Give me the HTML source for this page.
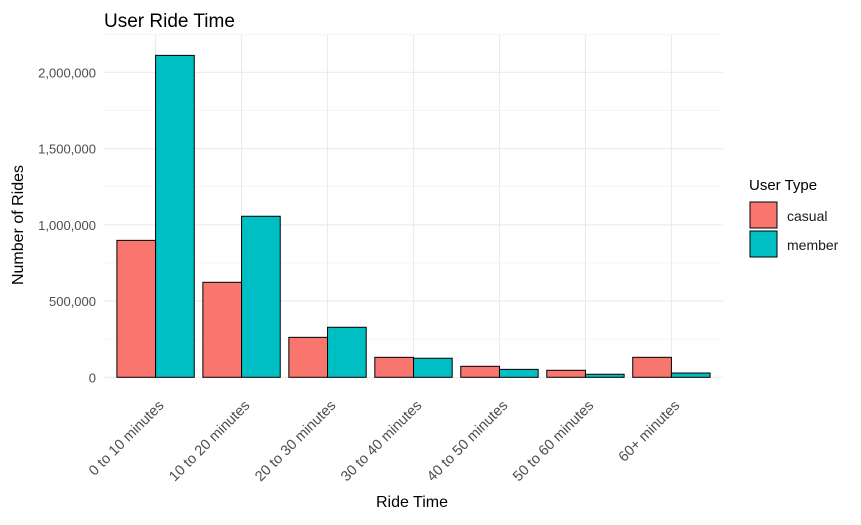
<!DOCTYPE html>
<html><head><meta charset="utf-8"><style>
body{margin:0;background:#fff;font-family:"Liberation Sans",sans-serif;}
svg text{font-family:"Liberation Sans",sans-serif;}
</style></head><body>
<svg id="chart" width="861" height="520" xmlns="http://www.w3.org/2000/svg">
<text x="104" y="27" font-size="19" fill="#000">User Ride Time</text>
<g id="grid"></g><g id="bars"></g><g id="axes"></g>
<text x="412" y="507" font-size="16" text-anchor="middle" fill="#000">Ride Time</text>
<text transform="translate(23,225) rotate(-90)" font-size="16" text-anchor="middle" fill="#000">Number of Rides</text>
<g>
<text x="749" y="190" font-size="15" fill="#000">User Type</text>
<rect x="750" y="202" width="27" height="26" fill="#F8766D" stroke="#000" stroke-width="1"/>
<text x="787" y="221" font-size="14" fill="#1a1a1a">casual</text>
<rect x="750" y="231" width="27" height="26" fill="#00BFC4" stroke="#000" stroke-width="1"/>
<text x="787" y="250" font-size="14" fill="#1a1a1a">member</text>
</g>
</svg>
<script>
const categories=["0 to 10 minutes","10 to 20 minutes","20 to 30 minutes","30 to 40 minutes","40 to 50 minutes","50 to 60 minutes","60+ minutes"];
const casual=[898000,623000,262000,131000,72000,46000,131000];
const member=[2111000,1056000,328000,125000,52000,20000,28000];
const yTicks=[0,500000,1000000,1500000,2000000];
const yTickLabels=["0","500,000","1,000,000","1,500,000","2,000,000"];
const NS="http://www.w3.org/2000/svg";
const pLeft=104,pRight=723,pTop=35,pBottom=377.3;
const step=(pRight-pLeft)/(categories.length+0.2);
const xC=i=>pLeft+step*(0.6+i);
const yS=v=>pBottom-v*(76.25/500000);
function mk(p,t,a){const e=document.createElementNS(NS,t);for(const k in a)e.setAttribute(k,a[k]);p.appendChild(e);return e;}
const gridG=document.getElementById('grid'),barsG=document.getElementById('bars'),axesG=document.getElementById('axes');
for(let v=250000;v<2300000;v+=500000){const l=mk(gridG,'line',{x1:pLeft,x2:pRight,y1:yS(v),y2:yS(v),stroke:'#f0f0f0','stroke-width':0.6});

}
yTicks.forEach((v,i)=>{const l=mk(gridG,'line',{x1:pLeft,x2:pRight,y1:yS(v),y2:yS(v),stroke:'#ebebeb','stroke-width':1.1});


const t=mk(axesG,'text',{x:pLeft-8,y:yS(v)+5,'text-anchor':'end','font-size':13,fill:'#4d4d4d'});t.textContent=yTickLabels[i];

});
const bw=step*0.45;
categories.forEach((c,i)=>{const cx=xC(i);
const g=mk(gridG,'line',{x1:cx,x2:cx,y1:pTop,y2:pBottom,stroke:'#ebebeb','stroke-width':1.1});


const r1=mk(barsG,'rect',{x:cx-bw,y:yS(casual[i]),width:bw,height:pBottom-yS(casual[i]),fill:'#F8766D',stroke:'#000','stroke-width':1});


const r2=mk(barsG,'rect',{x:cx,y:yS(member[i]),width:bw,height:pBottom-yS(member[i]),fill:'#00BFC4',stroke:'#000','stroke-width':1});


const t=mk(axesG,'text',{transform:`translate(${cx+9},${pBottom+29}) rotate(-45)`,'text-anchor':'end','font-size':14.5,fill:'#4d4d4d'});t.textContent=c;

});
</script>
</body></html>
